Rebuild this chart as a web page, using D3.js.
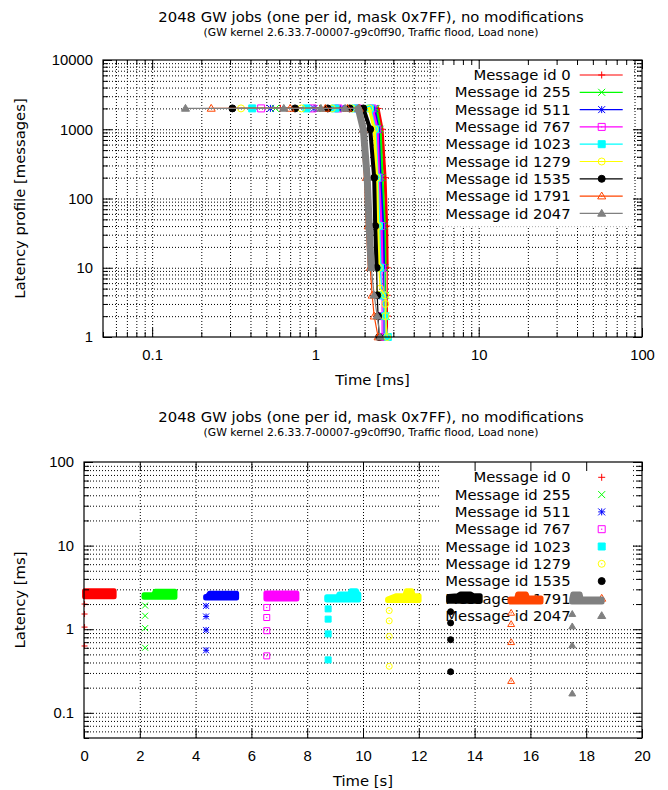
<!DOCTYPE html>
<html>
<head>
<meta charset="utf-8">
<script src="https://cdn.jsdelivr.net/npm/d3@7"></script>
<style>
  body { margin: 0; background: #fff; }
  svg { font-family: "DejaVu Sans", sans-serif; }
  .grid line { stroke: #000; stroke-width: 1; stroke-dasharray: 1,2; }
  .grid path, .ticks path { display: none; }
  .ticks line { stroke: #000; stroke-width: 1; }
  .ticks text { font-size: 14.8px; fill: #000; }
</style>
</head>
<body>
<div class="js-vis"></div>
<script>
const ids = [0, 255, 511, 767, 1023, 1279, 1535, 1791, 2047]
const colors = ["#ff0000", "#00ff00", "#0000ff", "#ff00ff", "#00ffff", "#ffff00", "#000000", "#ff4500", "#808080"]
const symbols = ["plus", "cross", "star", "box", "boxFill", "circle", "circleFill", "tri", "triFill"]

// latency profile, [latency ms, messages at or above it]
const profile0 = [[0.61, 2000], [1.06, 1999], [1.52, 1998], [2.0, 1997], [2.42, 1996], [2.56, 1000], [2.67, 200], [2.73, 40], [2.75, 10], [2.75, 4], [2.76, 2], [2.76, 1]]
const profile255 = [[0.57, 2000], [1.03, 1999], [1.45, 1998], [1.92, 1997], [2.35, 1996], [2.49, 1000], [2.56, 200], [2.645, 40], [2.67, 10], [2.69, 4], [2.71, 2], [2.71, 1]]
const profile511 = [[0.53, 2000], [0.98, 1999], [1.42, 1998], [1.9, 1997], [2.29, 1996], [2.42, 1000], [2.49, 200], [2.585, 40], [2.615, 10], [2.63, 4], [2.63, 2], [2.63, 1]]
const profile767 = [[0.465, 2000], [0.96, 1999], [1.38, 1998], [1.82, 1997], [2.23, 1996], [2.39, 1000], [2.44, 200], [2.525, 40], [2.56, 10], [2.56, 4], [2.56, 2], [2.56, 1]]
const profile1023 = [[0.41, 2000], [0.88, 1999], [1.32, 1998], [1.75, 1997], [2.165, 1996], [2.32, 1000], [2.39, 200], [2.446, 40], [2.49, 10], [2.56, 4], [2.67, 2], [2.775, 1]]
const profile1279 = [[0.35, 2000], [0.82, 1999], [1.26, 1998], [1.67, 1997], [2.135, 1996], [2.29, 1000], [2.37, 200], [2.41, 40], [2.446, 10], [2.49, 5], [2.67, 4], [2.68, 3], [2.68, 2], [2.75, 1]]
const profile1535 = [[0.31, 2000], [0.75, 1999], [1.19, 1998], [1.62, 1997], [1.965, 1996], [2.165, 1000], [2.29, 200], [2.323, 40], [2.37, 10], [2.39, 4], [2.42, 2], [2.455, 1]]
const profile1791 = [[0.23, 2000], [0.7, 1999], [1.15, 1998], [1.57, 1997], [1.856, 1996], [1.965, 1000], [2.05, 200], [2.105, 40], [2.165, 10], [2.226, 4], [2.29, 2], [2.42, 1]]
const profile2047 = [[0.16, 2000], [0.64, 1999], [1.08, 1998], [1.52, 1997], [1.832, 1996], [1.965, 1000], [2.075, 200], [2.135, 40], [2.195, 10], [2.29, 4], [2.39, 2], [2.49, 1]]
const profiles = [profile0, profile255, profile511, profile767, profile1023, profile1279, profile1535, profile1791, profile2047]

// latency over time: the first slow messages of each id, send time [s] and latency [ms]
const slowTime = [0.02, 2.19, 4.375, 6.55, 8.75, 10.94, 13.14, 15.31, 17.5]
const slowLatency = [
  [2.0, 1.52, 1.06, 0.63],
  [1.92, 1.45, 1.03, 0.6],
  [1.9, 1.42, 0.98, 0.56],
  [1.82, 1.38, 0.96, 0.48],
  [1.75, 1.32, 0.88, 0.43],
  [1.67, 1.26, 0.82, 0.36],
  [1.62, 1.19, 0.75, 0.31],
  [1.57, 1.15, 0.7, 0.24],
  [1.52, 1.08, 0.64, 0.17]
]
// the bulk of each id's messages, [time s, lowest ms, highest ms]
const bulk0 = [[0.02, 2.45, 2.89], [1.08, 2.45, 2.89]]
const bulk255 = [[2.15, 2.41, 2.59], [2.5, 2.41, 2.59], [2.55, 2.41, 2.84], [3.26, 2.41, 2.84]]
const bulk511 = [[4.36, 2.36, 2.47], [4.42, 2.36, 2.47], [4.5, 2.36, 2.69], [5.47, 2.36, 2.69]]
const bulk767 = [[6.52, 2.3, 2.71], [7.63, 2.3, 2.71]]
const bulk1023 = [[8.7, 2.24, 2.45], [9.1, 2.24, 2.45], [9.14, 2.24, 2.64], [9.52, 2.24, 2.64], [9.56, 2.24, 2.89], [9.77, 2.24, 2.89], [9.81, 2.24, 2.64], [9.85, 2.24, 2.64]]
const bulk1279 = [[10.88, 2.2, 2.3], [11.2, 2.2, 2.52], [11.5, 2.2, 2.52], [11.55, 2.2, 2.89], [11.75, 2.2, 2.89], [11.8, 2.2, 2.52], [12.01, 2.2, 2.52]]
const bulk1535 = [[13.07, 2.16, 2.46], [13.4, 2.16, 2.52], [13.5, 2.16, 2.64], [13.85, 2.16, 2.64], [13.95, 2.16, 2.52], [14.2, 2.16, 2.52]]
const bulk1791 = [[15.27, 2.11, 2.3], [15.5, 2.11, 2.3], [15.55, 2.11, 2.64], [15.85, 2.11, 2.64], [15.9, 2.11, 2.36], [16.38, 2.11, 2.36]]
const bulk2047 = [[17.48, 2.11, 2.3], [17.52, 2.11, 2.64], [17.78, 2.11, 2.64], [17.82, 2.11, 2.3], [18.57, 2.11, 2.3]]
const bulks = [bulk0, bulk255, bulk511, bulk767, bulk1023, bulk1279, bulk1535, bulk1791, bulk2047]

const title = "2048 GW jobs (one per id, mask 0x7FF), no modifications",
    subtitle = "(GW kernel 2.6.33.7-00007-g9c0ff90, Traffic flood, Load none)"

const svg = d3.select(".js-vis").append("svg")
  .attr("width", 668)
  .attr("height", 790)

// gnuplot style point symbols
function marker(g, type, color, r) {
  let d
  if (type == "plus") d = `M${-r},0H${r}M0,${-r}V${r}`
  else if (type == "cross") d = `M${-r},${-r}L${r},${r}M${-r},${r}L${r},${-r}`
  else if (type == "star") d = `M${-r},0H${r}M0,${-r}V${r}M${-r},${-r}L${r},${r}M${-r},${r}L${r},${-r}`
  else if (type.startsWith("box")) d = `M${-r},${-r}H${r}V${r}H${-r}Z`
  else if (type.startsWith("circle")) d = `M${r},0A${r},${r} 0 1,1 ${-r},0A${r},${r} 0 1,1 ${r},0Z`
  else d = `M0,${-r * 1.15}L${r * 1.15},${r * 0.8}L${-r * 1.15},${r * 0.8}Z`
  const filled = type.endsWith("Fill")
  const lines = type == "plus" || type == "cross" || type == "star"
  g.append("path")
    .attr("d", d)
    .attr("fill", filled ? color : "none")
    .attr("stroke", color)
    .attr("stroke-width", 1)
  if (!filled && !lines) {
    g.append("rect").attr("x", -0.6).attr("y", -0.6).attr("width", 1.2).attr("height", 1.2).attr("fill", color)
  }
}

function frame(g, x, y, w, h, o) {
  g.append("g").attr("class", "grid")
    .attr("transform", "translate(0," + h + ")")
    .call(d3.axisBottom(x).tickValues(o.xGrid).tickSize(-h).tickFormat(""))
  g.append("g").attr("class", "grid")
    .call(d3.axisLeft(y).tickValues(o.yGrid).tickSize(-w).tickFormat(""))
}

function border(g, x, y, w, h, o) {
  g.append("g").attr("class", "ticks")
    .attr("transform", "translate(0," + h + ")")
    .call(d3.axisBottom(x).tickValues(o.xMajor).tickSizeInner(-9).tickSizeOuter(0).tickPadding(12).tickFormat(o.xFormat))
  g.append("g").attr("class", "ticks")
    .call(d3.axisTop(x).tickValues(o.xMajor).tickSizeInner(-9).tickSizeOuter(0).tickFormat(""))
  g.append("g").attr("class", "ticks")
    .call(d3.axisLeft(y).tickValues(o.yMajor).tickSizeInner(-9).tickSizeOuter(0).tickPadding(10).tickFormat(o.yFormat))
  g.append("g").attr("class", "ticks")
    .attr("transform", "translate(" + w + ",0)")
    .call(d3.axisRight(y).tickValues(o.yMajor).tickSizeInner(-9).tickSizeOuter(0).tickFormat(""))
  if (o.xMinor) {
    g.append("g").attr("class", "ticks")
      .attr("transform", "translate(0," + h + ")")
      .call(d3.axisBottom(x).tickValues(o.xMinor).tickSize(-5).tickFormat(""))
    g.append("g").attr("class", "ticks")
      .call(d3.axisTop(x).tickValues(o.xMinor).tickSize(-5).tickFormat(""))
  }
  g.append("g").attr("class", "ticks")
    .call(d3.axisLeft(y).tickValues(o.yMinor).tickSize(-5).tickFormat(""))
  g.append("g").attr("class", "ticks")
    .attr("transform", "translate(" + w + ",0)")
    .call(d3.axisRight(y).tickValues(o.yMinor).tickSize(-5).tickFormat(""))
  g.append("rect")
    .attr("width", w).attr("height", h)
    .attr("fill", "none").attr("stroke", "#000").attr("stroke-width", 1.2)
}

function titles(ty) {
  svg.append("text").attr("x", 371).attr("y", ty)
    .attr("text-anchor", "middle").style("font-size", "14.8px").text(title)
  svg.append("text").attr("x", 371).attr("y", ty + 14)
    .attr("text-anchor", "middle").style("font-size", "10.8px").text(subtitle)
}

function legend(g, x0, y0, withLine) {
  const rows = g.append("g")
  const box = rows.append("rect").attr("fill", "#fff")
  let maxw = 0
  ids.forEach((id, i) => {
    const yy = y0 + i * 17.3
    const t = rows.append("text")
      .attr("x", x0).attr("y", yy).attr("dy", "0.35em")
      .attr("text-anchor", "end").style("font-size", "14.8px")
      .text("Message id " + id)
    maxw = Math.max(maxw, t.node().getComputedTextLength())
    if (withLine) {
      rows.append("line")
        .attr("x1", x0 + 9).attr("x2", x0 + 52).attr("y1", yy).attr("y2", yy)
        .attr("stroke", colors[i]).attr("stroke-width", 1.2)
    }
    marker(rows.append("g").attr("transform", "translate(" + (x0 + 31) + "," + yy + ")"), symbols[i], colors[i], 3.5)
  })
  box.attr("x", x0 - maxw - 6).attr("y", y0 - 14)
    .attr("width", maxw + 68).attr("height", ids.length * 17.3 + 10)
}

const logTicks = (lo, hi) => d3.scaleLog().domain([lo, hi]).ticks()

// ---------- top: latency profile ----------
{
  const m = { left: 103, top: 60, right: 26, bottom: 453 }
  const w = 668 - m.left - m.right, h = 790 - m.top - m.bottom
  const x = d3.scaleLog().domain([0.05, 100]).range([0, w])
  const y = d3.scaleLog().domain([1, 10000]).range([h, 0])
  const g = svg.append("g").attr("transform", "translate(" + m.left + "," + m.top + ")")
  const xMajor = [0.1, 1, 10, 100], yMajor = [1, 10, 100, 1000, 10000]
  const opt = {
    xGrid: logTicks(0.05, 100).filter(d => d > 0.05 && d < 100),
    yGrid: logTicks(1, 10000).filter(d => d > 1 && d < 10000),
    xMajor, yMajor,
    xMinor: logTicks(0.05, 100).filter(d => !xMajor.includes(d)),
    yMinor: logTicks(1, 10000).filter(d => !yMajor.includes(d)),
    xFormat: d3.format("~g"), yFormat: d3.format("d")
  }
  frame(g, x, y, w, h, opt)

  const line = d3.line().x(d => x(d[0])).y(d => y(d[1]))
  const trail = [3, 3, 3, 3, 3, 3, 4, 5, 7]
  profiles.forEach((p, i) => {
    const s = g.append("g")
    // messages are so many here that the points merge into a band
    s.append("path").attr("d", line(p.filter(d => d[1] <= 1996 && d[1] >= 10)))
      .attr("fill", "none").attr("stroke", colors[i]).attr("stroke-width", trail[i])
      .attr("stroke-linejoin", "round").attr("stroke-linecap", "round")
    s.append("path").attr("d", line(p))
      .attr("fill", "none").attr("stroke", colors[i]).attr("stroke-width", 1.2)
    s.selectAll(".pt")
      .data(p)
    .enter().append("g")
      .attr("transform", d => "translate(" + x(d[0]) + "," + y(d[1]) + ")")
      .each(function() { marker(d3.select(this), symbols[i], colors[i], 3.5) })
  })

  legend(g, 570.7 - m.left, 75 - m.top, true)
  border(g, x, y, w, h, opt)

  g.append("text").attr("x", w / 2).attr("y", h + 48)
    .attr("text-anchor", "middle").style("font-size", "14.8px").text("Time [ms]")
  g.append("text").attr("transform", "translate(" + (25 - m.left) + "," + (h / 2) + ") rotate(-90)")
    .attr("text-anchor", "middle").style("font-size", "14.8px").text("Latency profile [messages]")
  titles(22)
}

// ---------- bottom: latency over time ----------
{
  const m = { left: 84, top: 462, right: 26, bottom: 52 }
  const w = 668 - m.left - m.right, h = 790 - m.top - m.bottom
  const x = d3.scaleLinear().domain([0, 20]).range([0, w])
  const y = d3.scaleLog().domain([0.05, 100]).range([h, 0])
  const g = svg.append("g").attr("transform", "translate(" + m.left + "," + m.top + ")")
  const xMajor = d3.range(0, 21, 2), yMajor = [0.1, 1, 10, 100]
  const opt = {
    xGrid: xMajor.filter(d => d > 0 && d < 20),
    yGrid: logTicks(0.05, 100).filter(d => d > 0.05 && d < 100),
    xMajor, yMajor,
    yMinor: logTicks(0.05, 100).filter(d => !yMajor.includes(d)),
    xFormat: d3.format("d"), yFormat: d3.format("~g")
  }
  frame(g, x, y, w, h, opt)
  legend(g, 570.7 - m.left, 477.3 - m.top, false)

  const area = d3.area().x(d => x(d[0])).y0(d => y(d[1])).y1(d => y(d[2]))
  bulks.forEach((b, i) => {
    const s = g.append("g")
    s.append("path").attr("d", area(b))
      .attr("fill", colors[i]).attr("stroke", colors[i]).attr("stroke-width", 5)
      .attr("stroke-linejoin", "round")
    s.selectAll(".pt")
      .data(slowLatency[i])
    .enter().append("g")
      .attr("transform", d => "translate(" + x(slowTime[i]) + "," + y(d) + ")")
      .each(function() { marker(d3.select(this), symbols[i], colors[i], 3) })
  })

  border(g, x, y, w, h, opt)

  g.append("text").attr("x", w / 2).attr("y", h + 48)
    .attr("text-anchor", "middle").style("font-size", "14.8px").text("Time [s]")
  g.append("text").attr("transform", "translate(" + (25 - m.left) + "," + (h / 2) + ") rotate(-90)")
    .attr("text-anchor", "middle").style("font-size", "14.8px").text("Latency [ms]")
  titles(422)
}
</script>
</body>
</html>
